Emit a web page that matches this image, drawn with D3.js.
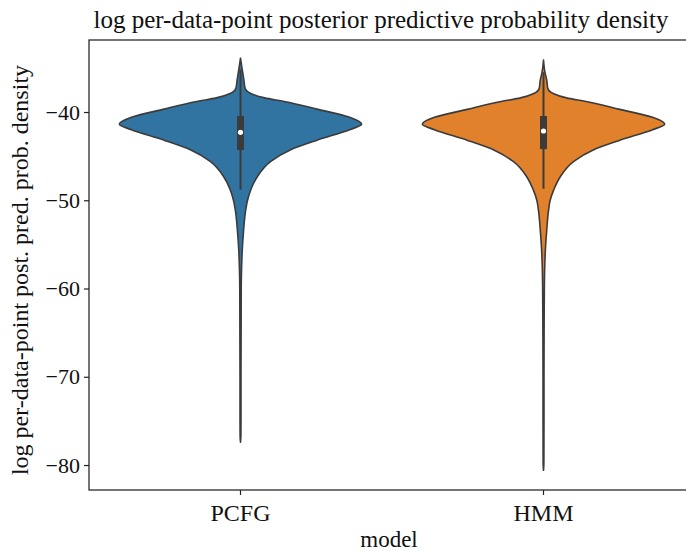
<!DOCTYPE html>
<html>
<head>
<meta charset="utf-8">
<script src="https://cdn.jsdelivr.net/npm/d3@7"></script>
<style>
  html, body { margin: 0; padding: 0; background: #fff; }
  svg { display: block; }
  text { font-family: "Liberation Serif", "Times New Roman", serif; fill: #111; }
</style>
</head>
<body>
<svg id="chart" width="686" height="551"></svg>
<script>
// ---------------- data ----------------
const categories = ["PCFG", "HMM"];
const colors = ["#3274a1", "#e1812c"];
const yTicks = [-40, -50, -60, -70, -80];

// density profile (value, relative density)
const pcfgValues  = [-33.9, -35.0, -36.4, -37.3, -37.9, -38.4, -38.8, -39.7, -40.6, -41.4, -42.0, -43.2, -44.3, -45.6, -47.3, -48.8, -50.0, -51.1, -53.5, -55.5, -57.6, -60.0, -65.0, -70.0, -75.0, -76.8, -77.4];
const pcfgDensity = [0, 0.012, 0.028, 0.038, 0.085, 0.20, 0.36, 0.64, 0.90, 1.0, 0.90, 0.63, 0.41, 0.25, 0.14, 0.085, 0.058, 0.043, 0.025, 0.015, 0.009, 0.006, 0.005, 0.004, 0.004, 0.003, 0];
const hmmValues   = [-34.1, -35.5, -36.4, -37.3, -37.9, -38.4, -38.8, -39.7, -40.6, -41.4, -42.0, -43.2, -44.3, -45.6, -47.3, -48.8, -50.0, -51.1, -53.5, -55.5, -57.6, -60.0, -65.0, -70.0, -75.0, -79.8, -80.6];
const hmmDensity  = [0, 0.012, 0.027, 0.035, 0.08, 0.19, 0.35, 0.63, 0.90, 1.0, 0.90, 0.63, 0.41, 0.25, 0.14, 0.085, 0.055, 0.042, 0.026, 0.016, 0.010, 0.007, 0.005, 0.004, 0.004, 0.003, 0];

// box statistics: [lower whisker, Q1, median, Q3, upper whisker]
const pcfgBox = [-48.8, -44.3, -42.3, -40.45, -35.2];
const hmmBox  = [-48.7, -44.2, -42.15, -40.45, -35.5];

const yDomain = [-82.83, -31.84];

// ---------------- layout ----------------
const svg = d3.select("#chart");
const plot = { left: 89, right: 695, top: 40, bottom: 490 };

const x = d3.scaleBand().domain(categories).range([plot.left, plot.right]).padding(0);
const y = d3.scaleLinear().domain(yDomain).range([plot.bottom, plot.top]);
const w = d3.scaleLinear().domain([0, 1]).range([0, x.bandwidth() * 0.4]);

const series = [
  { name: "PCFG", values: pcfgValues, density: pcfgDensity, box: pcfgBox },
  { name: "HMM",  values: hmmValues,  density: hmmDensity,  box: hmmBox }
];

const lineColor = "#3b3b3b";

series.forEach((s, i) => {
  const cx = x(s.name) + x.bandwidth() / 2;
  const pts = s.values.map((v, j) => ({ v, d: s.density[j] }));
  const area = d3.area()
    .y(d => y(d.v))
    .x0(d => cx - w(d.d))
    .x1(d => cx + w(d.d))
    .curve(d3.curveMonotoneY);
  svg.append("path")
    .datum(pts)
    .attr("d", area)
    .attr("fill", colors[i])
    .attr("stroke", lineColor)
    .attr("stroke-width", 1.6)
    .attr("stroke-linejoin", "round");

  // whisker
  svg.append("line")
    .attr("x1", cx).attr("x2", cx)
    .attr("y1", y(s.box[0])).attr("y2", y(s.box[4]))
    .attr("stroke", lineColor).attr("stroke-width", 2);
  // box
  svg.append("line")
    .attr("x1", cx).attr("x2", cx)
    .attr("y1", y(s.box[1])).attr("y2", y(s.box[3]))
    .attr("stroke", lineColor).attr("stroke-width", 7);
  // median
  svg.append("circle")
    .attr("cx", cx).attr("cy", y(s.box[2]))
    .attr("r", 2.6).attr("fill", "#fff");
});

// frame
svg.append("rect")
  .attr("x", plot.left).attr("y", plot.top)
  .attr("width", plot.right - plot.left).attr("height", plot.bottom - plot.top)
  .attr("fill", "none").attr("stroke", "#222").attr("stroke-width", 1.25);

// axes
const yAxis = svg.append("g")
  .attr("transform", `translate(${plot.left},0)`)
  .call(d3.axisLeft(y).tickValues(yTicks).tickSize(5).tickPadding(4)
    .tickFormat(d => d3.format("")(d).replace("-", "\u2212")));
yAxis.select(".domain").remove();
yAxis.selectAll(".tick line").attr("stroke", "#222").attr("stroke-width", 1.2);
yAxis.selectAll(".tick text").style("font-size", "22px").style("font-family", "Liberation Serif").attr("fill", "#111");

const xAxis = svg.append("g")
  .attr("transform", `translate(0,${plot.bottom})`)
  .call(d3.axisBottom(x).tickSize(5).tickPadding(9));
xAxis.select(".domain").remove();
xAxis.selectAll(".tick line").attr("stroke", "#222").attr("stroke-width", 1.2);
xAxis.selectAll(".tick text").style("font-size", "24px").style("font-family", "Liberation Serif").attr("fill", "#111");

// titles
svg.append("text")
  .attr("x", 381).attr("y", 28)
  .attr("text-anchor", "middle")
  .style("font-size", "25px")
  .text("log per-data-point posterior predictive probability density");

svg.append("text")
  .attr("x", 389).attr("y", 547)
  .attr("text-anchor", "middle")
  .style("font-size", "23px")
  .text("model");

svg.append("text")
  .attr("transform", `translate(28,${(plot.top + plot.bottom) / 2 + 5}) rotate(-90)`)
  .attr("text-anchor", "middle")
  .style("font-size", "24px")
  .text("log per-data-point post. pred. prob. density");
</script>
</body>
</html>
